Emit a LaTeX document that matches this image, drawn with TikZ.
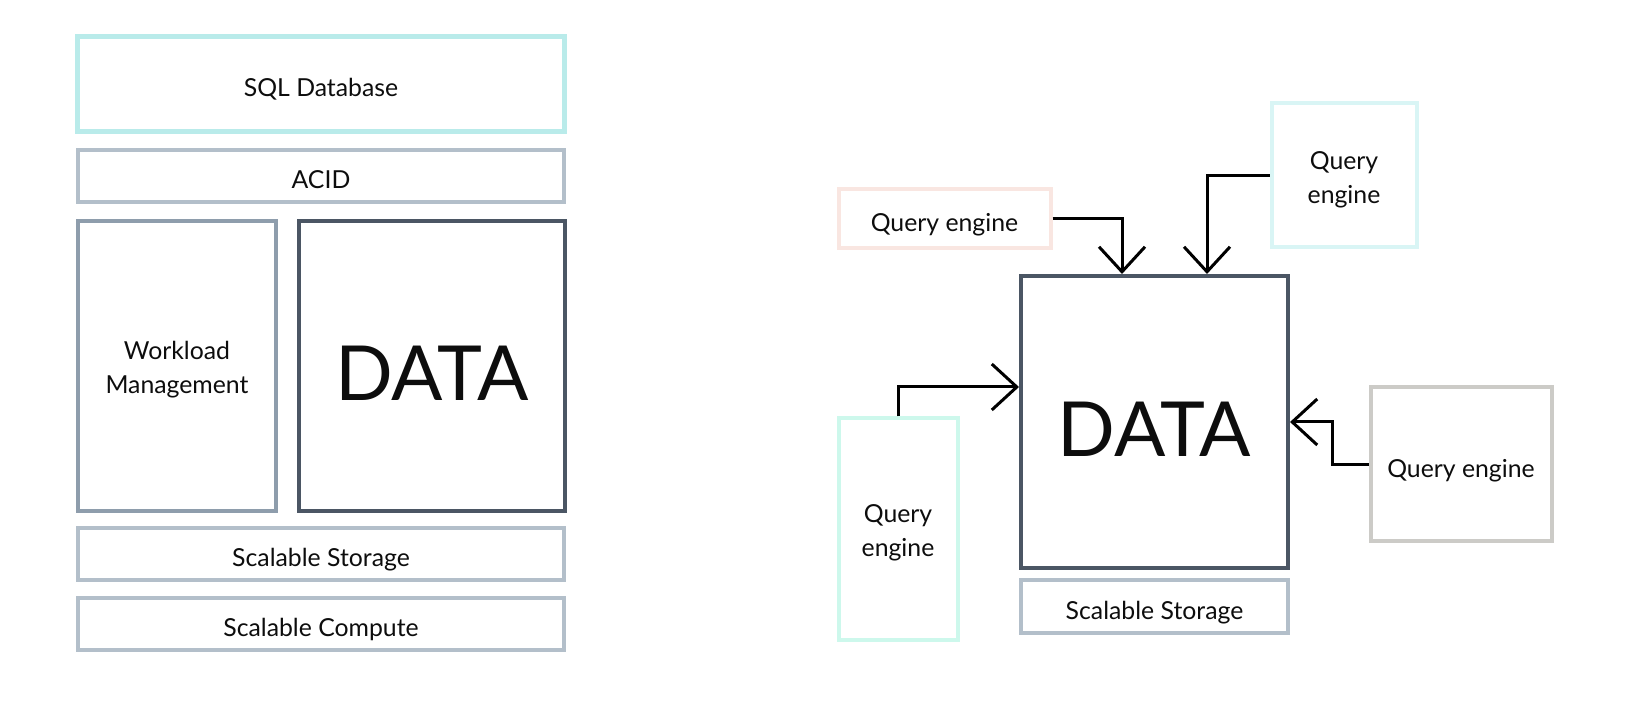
\documentclass[tikz,border=0pt]{standalone}
\usepackage{fontspec}
\setmainfont{Lato}
\usetikzlibrary{arrows.meta}

\definecolor{sqlcyan}{HTML}{B9EBEA}
\definecolor{layergrey}{HTML}{B3BFCA}
\definecolor{wlgrey}{HTML}{8E9DAC}
\definecolor{datadark}{HTML}{4B5664}
\definecolor{qpink}{HTML}{F9E6E1}
\definecolor{qcyan}{HTML}{D9F5F5}
\definecolor{qmint}{HTML}{CDF8EC}
\definecolor{qgrey}{HTML}{CCCBC7}

% taller first line, so that two-line labels sit a little lower
\newcommand{\liftline}{\rule{0pt}{13pt}}

\tikzset{
	box/.style={draw, inner sep=0pt, align=center, text=black!95,
		font=\fontsize{12.4}{17}\selectfont},
	oneline/.style={text height=12.8pt, text depth=0pt},
	layer/.style={box, oneline, draw=layergrey, line width=2pt},
	datobox/.style={box, draw=datadark, line width=2pt,
		font=\fontsize{38}{40}\selectfont, text height=34.6pt, text depth=0pt},
	engine/.style={box, line width=2pt},
	feed/.style={line width=1.5pt, -{Straight Barb[length=12.5pt, width=23pt]}}
}

\begin{document}
\begin{tikzpicture}[x=0.5pt, y=-0.5pt]
		\useasboundingbox (0,0) rectangle (1636,704);
		
		% Left stack
		\node[box, oneline, draw=sqlcyan, line width=2.5pt, minimum width=243.5pt, minimum height=47.5pt] (sql) at (321,84) {SQL Database};
		\node[layer, minimum width=243pt, minimum height=26pt] (acid) at (321,176) {ACID};
		\node[box, draw=wlgrey, line width=2pt, minimum width=99pt, minimum height=145pt] (wlm) at (177,366) {\liftline Workload\\Management};
		\node[datobox, minimum width=133pt, minimum height=145pt] (dataL) at (432,366) {DATA};
		\node[layer, minimum width=243pt, minimum height=26pt] (storeL) at (321,554) {Scalable Storage};
		\node[layer, minimum width=243pt, minimum height=26pt] (compL) at (321,624) {Scalable Compute};
		
		% Right side: data with its engines
		\node[datobox, minimum width=133.5pt, minimum height=146pt] (dataR) at (1154.5,422) {DATA};
		\node[layer, minimum width=133.5pt, minimum height=26.5pt] (storeR) at (1154.5,606.5) {Scalable Storage};
		
		\node[engine, oneline, draw=qpink, minimum width=106pt, minimum height=29.5pt] (qeA) at (944.5,219) {Query engine};
		\node[engine, draw=qcyan, minimum width=72.5pt, minimum height=72pt] (qeB) at (1344,175.5) {\liftline Query\\engine};
		\node[engine, draw=qmint, minimum width=59.5pt, minimum height=110.5pt] (qeC) at (898,529) {\liftline Query\\engine};
		\node[engine, oneline, draw=qgrey, minimum width=90.5pt, minimum height=77pt] (qeD) at (1461,464.5) {Query engine};
		
		% Entry points on the data box
		\coordinate (inA) at ([xshift=51.5pt]dataR.north west);
		\coordinate (inB) at ([xshift=94pt]dataR.north west);
		\coordinate (inC) at ([yshift=-56.5pt]dataR.north west);
		\coordinate (inD) at ([yshift=-74pt]dataR.north east);
		
		% Connect engines with data
		\draw[feed] (qeA.east) -| (inA);
		\draw[feed] (qeB.west) -| (inB);
		\draw[feed] (qeC.north) |- (inC);
		\draw[feed] (qeD.west) -- ++(-36,0) |- (inD);
		
	\end{tikzpicture}
\end{document}
